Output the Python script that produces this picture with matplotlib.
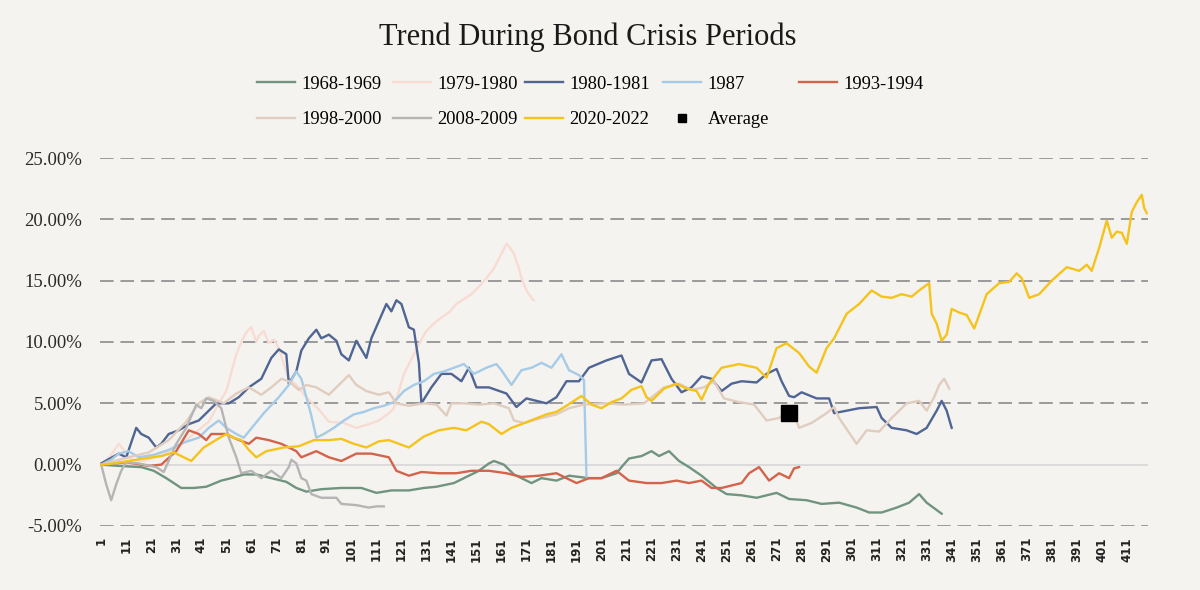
import matplotlib
matplotlib.use("Agg")
import matplotlib.pyplot as plt
from matplotlib.ticker import FuncFormatter

# values are cumulative returns in percent
d_1968 = [1, 8, 17, 22, 27, 33, 38, 43, 49, 53, 58, 63, 69, 75, 79, 83, 89, 97, 105, 111,
          117, 124, 130, 135, 142, 147, 152, 156, 158, 162, 166, 170, 173, 177, 183, 188, 192, 196, 201, 207,
          209, 212, 217, 221, 224, 228, 232, 236, 241, 247, 251, 257, 263, 271, 276, 283, 289, 296, 303, 308,
          313, 319, 324, 328, 331, 335, 337]
v_1968 = [0.0, -0.1, -0.2, -0.5, -1.1, -1.9, -1.9, -1.8, -1.3, -1.1, -0.8, -0.8, -1.1, -1.4, -1.9, -2.2, -2.0, -1.9, -1.9, -2.3,
          -2.1, -2.1, -1.9, -1.8, -1.5, -1.0, -0.5, 0.1, 0.3, 0.0, -0.8, -1.2, -1.5, -1.1, -1.3, -0.9, -1.0, -1.1, -1.1, -0.7,
          -0.2, 0.5, 0.7, 1.1, 0.7, 1.1, 0.3, -0.2, -0.9, -1.9, -2.4, -2.5, -2.7, -2.3, -2.8, -2.9, -3.2, -3.1, -3.5, -3.9,
          -3.9, -3.5, -3.1, -2.4, -3.1, -3.7, -4.0]

d_1979 = [1, 5, 8, 10, 13, 18, 25, 32, 38, 44, 48, 51, 53, 55, 57, 59, 61, 63, 64, 66,
          68, 70, 72, 74, 76, 79, 83, 88, 92, 98, 103, 108, 112, 116, 118, 120, 122, 124, 126, 129,
          131, 134, 137, 140, 143, 146, 149, 152, 155, 158, 161, 163, 164, 166, 168, 169, 171, 173, 174]
v_1979 = [0.0, 0.8, 1.7, 1.2, 0.4, 0.3, 0.8, 1.5, 2.5, 3.5, 5.0, 6.0, 7.5, 9.0, 10.0, 10.8, 11.2, 10.0, 10.5, 10.9,
          9.9, 10.2, 9.5, 8.2, 7.0, 6.5, 5.5, 4.5, 3.5, 3.4, 3.0, 3.3, 3.6, 4.2, 4.6, 6.0, 7.4, 8.2, 9.0, 10.2,
          10.9, 11.5, 12.0, 12.4, 13.1, 13.5, 13.9, 14.5, 15.2, 16.0, 17.2, 18.0, 17.8, 17.2, 16.0, 15.2, 14.2, 13.6, 13.4]

d_1980 = [1, 8, 11, 15, 17, 20, 23, 25, 28, 32, 36, 40, 44, 47, 52, 56, 60, 65, 69, 72,
          75, 76, 79, 81, 84, 87, 89, 92, 95, 97, 100, 103, 107, 109, 112, 115, 117, 119, 121, 124,
          126, 128, 129, 133, 137, 141, 145, 148, 151, 156, 163, 167, 171, 179, 183, 187, 192, 196, 203, 209,
          212, 217, 221, 225, 229, 233, 237, 241, 245, 249, 253, 257, 263, 267, 271, 273, 276, 278, 281, 287,
          292, 294, 299, 304, 311, 313, 317, 323, 327, 331, 335, 337, 339, 341]
v_1980 = [0.1, 0.9, 0.6, 3.0, 2.5, 2.2, 1.4, 1.7, 2.5, 2.8, 3.3, 3.6, 4.4, 5.0, 5.0, 5.5, 6.3, 7.0, 8.7, 9.4,
          9.0, 6.6, 7.6, 9.3, 10.3, 11.0, 10.3, 10.6, 10.1, 9.0, 8.5, 10.1, 8.7, 10.3, 11.7, 13.1, 12.5, 13.4, 13.1, 11.2,
          11.0, 8.3, 5.0, 6.3, 7.4, 7.4, 6.8, 7.9, 6.3, 6.3, 5.8, 4.7, 5.4, 5.0, 5.5, 6.8, 6.8, 7.9, 8.5, 8.9,
          7.4, 6.7, 8.5, 8.6, 7.0, 5.9, 6.3, 7.2, 7.0, 6.0, 6.6, 6.8, 6.7, 7.4, 7.8, 6.8, 5.6, 5.5, 5.9, 5.4,
          5.4, 4.2, 4.4, 4.6, 4.7, 3.8, 3.0, 2.8, 2.5, 3.0, 4.4, 5.2, 4.4, 3.0]

d_1987 = [1, 5, 8, 12, 16, 22, 28, 34, 40, 44, 48, 51, 55, 58, 62, 66, 72, 76, 79, 81,
          83, 85, 87, 90, 94, 98, 102, 106, 110, 114, 118, 122, 126, 130, 134, 138, 142, 146, 150, 155,
          159, 161, 165, 169, 173, 177, 181, 185, 188, 192, 194, 195]
v_1987 = [0.0, 0.4, 0.9, 1.1, 0.6, 0.8, 1.2, 1.8, 2.2, 3.0, 3.6, 3.0, 2.5, 2.2, 3.2, 4.2, 5.5, 6.5, 7.6, 7.0,
          5.5, 4.0, 2.2, 2.5, 3.0, 3.6, 4.1, 4.3, 4.6, 4.8, 5.1, 6.0, 6.5, 6.8, 7.4, 7.6, 7.9, 8.2, 7.4, 7.9,
          8.2, 7.7, 6.5, 7.7, 7.9, 8.3, 7.9, 9.0, 7.7, 7.3, 6.9, -1.0]

d_1993 = [1, 11, 20, 25, 31, 36, 40, 43, 45, 51, 55, 60, 63, 68, 73, 79, 81, 87, 92, 97,
          103, 109, 116, 119, 124, 129, 136, 143, 149, 156, 163, 169, 176, 183, 191, 196, 201, 207, 212, 219,
          225, 231, 236, 241, 245, 249, 253, 257, 260, 264, 268, 272, 276, 278, 280]
v_1993 = [0.0, 0.2, -0.1, 0.0, 1.1, 2.8, 2.5, 2.0, 2.5, 2.5, 2.1, 1.7, 2.2, 2.0, 1.7, 1.1, 0.6, 1.1, 0.6, 0.3,
          0.9, 0.9, 0.6, -0.5, -0.9, -0.6, -0.7, -0.7, -0.5, -0.5, -0.7, -1.0, -0.9, -0.7, -1.5, -1.1, -1.1, -0.5, -1.3, -1.5,
          -1.5, -1.3, -1.5, -1.3, -1.9, -1.9, -1.7, -1.5, -0.7, -0.2, -1.3, -0.7, -1.1, -0.3, -0.2]

d_1998 = [1, 10, 20, 28, 35, 40, 44, 50, 55, 60, 65, 69, 73, 76, 80, 83, 87, 92, 96, 100,
          103, 107, 112, 116, 119, 124, 130, 135, 139, 141, 146, 152, 158, 164, 166, 170, 177, 183, 188, 194,
          202, 210, 218, 226, 232, 237, 242, 246, 250, 256, 262, 267, 272, 277, 280, 285, 291, 294, 296, 303,
          307, 312, 317, 323, 328, 331, 334, 336, 338, 340]
v_1998 = [0.0, 0.5, 1.0, 2.0, 3.5, 5.0, 5.5, 5.0, 5.8, 6.3, 5.7, 6.3, 7.0, 6.8, 6.1, 6.5, 6.3, 5.7, 6.5, 7.3,
          6.5, 6.0, 5.7, 5.9, 5.0, 4.8, 5.0, 4.9, 4.0, 5.0, 5.0, 4.9, 5.0, 4.6, 3.6, 3.4, 3.8, 4.1, 4.6, 4.9,
          5.0, 4.9, 5.0, 6.3, 6.6, 6.1, 6.3, 6.8, 5.4, 5.1, 4.9, 3.6, 3.8, 4.7, 3.0, 3.4, 4.2, 4.7, 3.8, 1.7,
          2.8, 2.7, 3.8, 5.0, 5.2, 4.4, 5.5, 6.5, 7.0, 6.2]

d_2008 = [1, 3, 5, 7, 9, 11, 16, 23, 26, 31, 35, 39, 41, 43, 46, 49, 50, 52, 55, 57,
          61, 65, 69, 73, 76, 77, 79, 81, 83, 85, 89, 95, 97, 103, 108, 111, 114]
v_2008 = [0.0, -1.6, -2.9, -1.6, -0.5, 0.2, 0.1, -0.2, -0.6, 1.7, 3.0, 4.9, 4.6, 5.4, 5.2, 4.6, 3.8, 2.2, 0.6, -0.7,
          -0.5, -1.1, -0.5, -1.1, -0.2, 0.4, 0.1, -1.1, -1.3, -2.4, -2.7, -2.7, -3.2, -3.3, -3.5, -3.4, -3.4]

d_2020 = [1, 6, 12, 18, 25, 30, 34, 37, 42, 46, 51, 54, 57, 60, 63, 67, 74, 80, 86, 92,
          97, 102, 107, 112, 116, 120, 124, 130, 136, 142, 147, 153, 156, 161, 165, 169, 174, 179, 183, 187,
          190, 193, 197, 201, 205, 209, 213, 217, 219, 221, 226, 231, 235, 239, 241, 244, 249, 256, 263, 267,
          271, 275, 280, 284, 287, 291, 294, 299, 304, 309, 313, 317, 321, 325, 328, 332, 333, 335, 337, 339,
          341, 344, 347, 350, 355, 360, 364, 367, 369, 372, 376, 381, 387, 392, 395, 397, 400, 403, 405, 407,
          409, 411, 413, 415, 417, 418, 419]
v_2020 = [0.0, 0.1, 0.3, 0.5, 0.7, 1.0, 0.6, 0.3, 1.4, 1.9, 2.5, 2.2, 2.0, 1.2, 0.6, 1.1, 1.4, 1.5, 2.0, 2.0,
          2.1, 1.7, 1.4, 1.9, 2.0, 1.7, 1.4, 2.3, 2.8, 3.0, 2.8, 3.5, 3.3, 2.5, 3.0, 3.3, 3.7, 4.1, 4.3, 4.8,
          5.2, 5.6, 4.9, 4.6, 5.1, 5.4, 6.1, 6.4, 5.5, 5.2, 6.2, 6.6, 6.2, 6.0, 5.3, 6.6, 7.9, 8.2, 7.9, 7.1,
          9.5, 9.9, 9.1, 8.0, 7.5, 9.5, 10.3, 12.3, 13.1, 14.2, 13.7, 13.6, 13.9, 13.7, 14.2, 14.8, 12.3, 11.5, 10.1, 10.6,
          12.7, 12.4, 12.2, 11.1, 13.9, 14.8, 14.9, 15.6, 15.2, 13.6, 13.9, 15.0, 16.1, 15.8, 16.3, 15.8, 17.7, 19.9, 18.5, 19.0,
          18.9, 18.0, 20.6, 21.4, 22.0, 20.9, 20.5]

avg_day = [276]
avg_val = [4.2]

labels = ["1968-1969", "1979-1980", "1980-1981", "1987", "1993-1994",
          "1998-2000", "2008-2009", "2020-2022", "Average"]
colors = ["#70947f", "#f8dcd3", "#4f6593", "#a5cbe8", "#d4634b",
          "#e0cdbf", "#b5b5b5", "#f4c31c", "black"]
n_days = 419
x_ticks = list(range(1, 412, 10))
y_ticks = [-5, 0, 5, 10, 15, 20, 25]

bg = "#f5f3ef"
fig = plt.figure(figsize=(12, 5.9), dpi=100, facecolor=bg)
ax = fig.add_axes([0.0833, 0.1085, 0.8734, 0.6237], facecolor=bg)

# grid: dashed, except the category axis at 0
for t in y_ticks:
    if t == 0:
        ax.axhline(t, color="#d9d9d9", lw=1.3, zorder=1)
    else:
        ax.axhline(t, color="#9a9a9a", lw=1.4, ls=(0, (7, 3.5)), zorder=1)

series = [(d_1968, v_1968), (d_1979, v_1979), (d_1980, v_1980), (d_1987, v_1987),
          (d_1993, v_1993), (d_1998, v_1998), (d_2008, v_2008), (d_2020, v_2020)]
handles = []
for (d, v), lab, c in zip(series, labels, colors):
    h, = ax.plot(d, v, color=c, lw=1.7, label=lab, zorder=2, solid_joinstyle="round")
    handles.append(h)
h, = ax.plot(avg_day, avg_val, ls="none", marker="s", markersize=11, color="black", label="Average", zorder=5)
handles.append(h)

ax.set_xlim(0.5, n_days + 0.5)
ax.set_ylim(-5, 25)
ax.set_yticks(y_ticks)
ax.yaxis.set_major_formatter(FuncFormatter(lambda v, p: "%.2f%%" % v))
ax.set_xticks(x_ticks)
ax.set_xticklabels([str(t) for t in x_ticks], rotation=90, fontsize=8.5,
                   fontweight="bold", family="DejaVu Sans", color="#222222")
for lbl in ax.get_yticklabels():
    lbl.set_family("Liberation Serif")
    lbl.set_fontsize(13.5)
    lbl.set_color("#2a2a2a")
ax.tick_params(axis="y", length=0, pad=13)
ax.tick_params(axis="x", length=0, pad=8)
for s in ax.spines.values():
    s.set_visible(False)

fig.text(0.49, 0.937, "Trend During Bond Crisis Periods", ha="center", va="center",
         fontsize=22, family="Liberation Serif", color="#1a1a1a")

# legend laid out row by row, one legend per column
cols = [[0, 5], [1, 6], [2, 7], [3, 8], [4]]
col_x = [0.214, 0.3275, 0.4375, 0.5525, 0.666]
for idx, cx in zip(cols, col_x):
    fig.legend([handles[i] for i in idx], [labels[i] for i in idx], loc="upper left",
               bbox_to_anchor=(cx, 0.872), frameon=False, borderpad=0, borderaxespad=0,
               handlelength=2.05, handletextpad=0.35, labelspacing=1.0, markerscale=0.55,
               prop={"family": "Liberation Serif", "size": 13.3})

fig.savefig("out.png", dpi=100, facecolor=bg)
